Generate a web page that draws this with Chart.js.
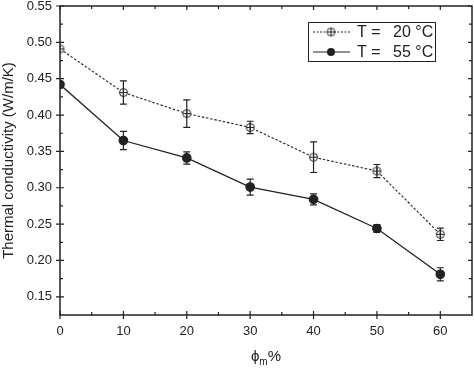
<!DOCTYPE html>
<html>
<head>
<meta charset="utf-8">
<script src="https://cdn.jsdelivr.net/npm/chart.js@4/dist/chart.umd.min.js"></script>
<style>
  html, body { margin: 0; padding: 0; background: #fff; }
  #wrap { width: 474px; height: 372px; position: relative; }
</style>
</head>
<body>
<div id="wrap"><canvas id="chart"></canvas></div>
<script>
const phi = [0, 10, 20, 30, 40, 50, 60];
const k20 = [0.491, 0.431, 0.402, 0.383, 0.342, 0.323, 0.236];
const k20Err = [0, 0.016, 0.019, 0.0085, 0.021, 0.009, 0.0085];
const k55 = [0.442, 0.365, 0.341, 0.301, 0.284, 0.244, 0.181];
const k55Err = [0, 0.0125, 0.0085, 0.011, 0.0076, 0.0053, 0.009];

const xTicks = [0, 10, 20, 30, 40, 50, 60];
const yTicks = [0.15, 0.20, 0.25, 0.30, 0.35, 0.40, 0.45, 0.50, 0.55];
const legendLabels = ['20 °C', '55 °C'];

const INK = '#222';
const FONT = '"Liberation Sans", Arial, sans-serif';

// open circle with a cross inside
function crossCircle(r) {
    const c = document.createElement('canvas');
    const s = Math.ceil(r * 2 + 3);
    c.width = s; c.height = s;
    const g = c.getContext('2d');
    g.strokeStyle = INK;
    g.lineWidth = 1;
    g.fillStyle = '#fff';
    g.beginPath();
    g.arc(s / 2, s / 2, r, 0, Math.PI * 2);
    g.fill();
    g.moveTo(s / 2 - r, s / 2); g.lineTo(s / 2 + r, s / 2);
    g.moveTo(s / 2, s / 2 - r); g.lineTo(s / 2, s / 2 + r);
    g.stroke();
    return c;
}
const openMarker = crossCircle(4);

function toPoints(ys) {
    return phi.map((x, i) => ({ x: x, y: ys[i] }));
}

// error bars, frame ticks, legend box and x title
const decor = {
    id: 'decor',
    afterDatasetsDraw(chart) {
        const c = chart.ctx;
        const xs = chart.scales.x, ys = chart.scales.y;
        const a = chart.chartArea;
        c.save();
        c.strokeStyle = INK;
        c.lineWidth = 1.2;
        [[k20, k20Err], [k55, k55Err]].forEach(([vals, errs]) => {
            vals.forEach((v, i) => {
                if (!errs[i]) return;
                const px = xs.getPixelForValue(phi[i]);
                const top = ys.getPixelForValue(v + errs[i]);
                const bot = ys.getPixelForValue(v - errs[i]);
                c.beginPath();
                c.moveTo(px, top); c.lineTo(px, bot);
                c.moveTo(px - 3.5, top); c.lineTo(px + 3.5, top);
                c.moveTo(px - 3.5, bot); c.lineTo(px + 3.5, bot);
                c.stroke();
            });
        });

        // frame
        c.lineWidth = 1.5;
        c.strokeRect(a.left, a.top, a.right - a.left, a.bottom - a.top);

        // ticks
        c.lineWidth = 1.2;
        c.beginPath();
        for (let v = 0; v <= 60; v += 5) {
            const px = xs.getPixelForValue(v);
            const major = v % 10 === 0;
            c.moveTo(px, a.bottom + (major ? 4 : 0)); c.lineTo(px, a.bottom - (major ? 4 : 3));
            c.moveTo(px, a.top); c.lineTo(px, a.top + (major ? 4 : 3));
        }
        for (let k = 0; k <= 16; k++) {
            const v = 0.15 + k * 0.025;
            const py = ys.getPixelForValue(v);
            const major = k % 2 === 0;
            c.moveTo(a.left - (major ? 4 : 0), py); c.lineTo(a.left + (major ? 4 : 3), py);
            c.moveTo(a.right, py); c.lineTo(a.right - (major ? 4 : 3), py);
        }
        c.stroke();

        // legend
        c.lineWidth = 1;
        c.strokeRect(308.5, 22.5, 127, 39);
        c.font = '16px ' + FONT;
        c.fillStyle = INK;
        c.textBaseline = 'middle';
        const rows = [32, 52];
        rows.forEach((ry, i) => {
            c.beginPath();
            c.lineWidth = 1.1;
            c.setLineDash(i === 0 ? [2, 1.5] : []);
            c.moveTo(313, ry); c.lineTo(350, ry);
            c.stroke();
            c.setLineDash([]);
            if (i === 0) {
                c.drawImage(openMarker, 331 - openMarker.width / 2, ry - openMarker.height / 2);
            } else {
                c.beginPath();
                c.arc(331, ry, 4, 0, Math.PI * 2);
                c.fill();
            }
            c.textAlign = 'left';
            c.fillText('T =', 357, ry + 1);
            c.fillText(legendLabels[i], 393, ry + 1);
        });

        // x title with subscript
        c.textBaseline = 'alphabetic';
        c.font = '15px ' + FONT;
        const phiW = c.measureText('ϕ').width;
        c.font = '10px ' + FONT;
        const mW = c.measureText('m').width;
        c.font = '15px ' + FONT;
        const pW = c.measureText('%').width;
        let x0 = (a.left + a.right) / 2 - (phiW + mW + pW) / 2;
        c.fillText('ϕ', x0, 361);
        c.font = '10px ' + FONT;
        c.fillText('m', x0 + phiW, 365);
        c.font = '15px ' + FONT;
        c.fillText('%', x0 + phiW + mW, 361);
        c.restore();
    }
};

new Chart(document.getElementById('chart'), {
    type: 'line',
    data: {
        datasets: [
            {
                label: 'T = 20 °C',
                data: toPoints(k20),
                borderColor: INK,
                borderWidth: 1.1,
                borderDash: [2.5, 1.8],
                pointStyle: openMarker,
                backgroundColor: '#fff',
                tension: 0
            },
            {
                label: 'T = 55 °C',
                data: toPoints(k55),
                borderColor: INK,
                borderWidth: 1.3,
                pointStyle: 'circle',
                pointRadius: 4.2,
                pointBackgroundColor: INK,
                pointBorderColor: INK,
                tension: 0
            }
        ]
    },
    options: {
        responsive: true,
        maintainAspectRatio: false,
        animation: false,
        layout: { autoPadding: false, padding: { top: 6, right: 2, left: 0, bottom: 0 } },
        plugins: { legend: { display: false }, tooltip: { enabled: false } },
        scales: {
            x: {
                type: 'linear',
                min: 0,
                max: 65,
                afterBuildTicks: s => { s.ticks = xTicks.map(v => ({ value: v })); },
                afterFit: s => { s.height = 57; s.paddingLeft = 0; s.paddingRight = 0; },
                grid: { display: false, drawTicks: false },
                border: { display: false },
                ticks: { color: INK, padding: 9, font: { family: FONT, size: 13 }, maxRotation: 0 }
            },
            y: {
                min: 0.125,
                max: 0.55,
                afterBuildTicks: s => { s.ticks = yTicks.map(v => ({ value: v })); },
                afterFit: s => { s.width = 60; s.paddingTop = 0; s.paddingBottom = 0; },
                grid: { display: false, drawTicks: false },
                border: { display: false },
                title: {
                    display: true,
                    text: 'Thermal conductivity (W/m/K)',
                    color: INK,
                    padding: 0,
                    font: { family: FONT, size: 15 }
                },
                ticks: {
                    color: INK,
                    padding: 8,
                    font: { family: FONT, size: 13 },
                    callback: v => v.toFixed(2)
                }
            }
        }
    },
    plugins: [decor]
});
</script>
</body>
</html>
